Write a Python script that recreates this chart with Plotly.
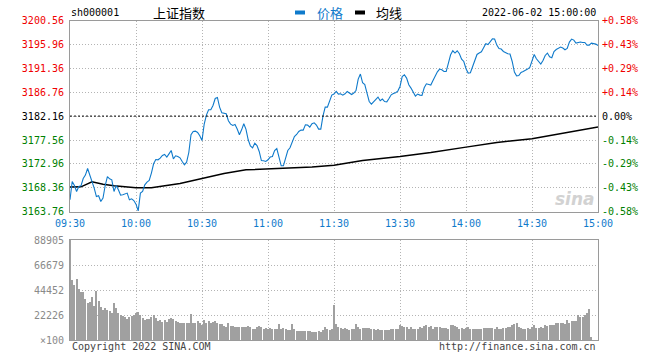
import plotly.graph_objects as go

# ---------------- data ----------------
minutes = list(range(241))
price = [
    3166.05, 3169.57, 3168.80, 3167.65, 3168.61, 3168.74, 3170.15, 3170.80, 3172.07, 3170.86,
    3169.90, 3168.30, 3166.68, 3166.82, 3165.72, 3166.37, 3168.80, 3170.53, 3170.09, 3169.90,
    3167.65, 3168.80, 3167.97, 3166.95, 3167.01, 3167.20, 3167.34, 3166.05, 3166.24, 3165.91,
    3165.22, 3163.93, 3167.34, 3167.65, 3168.94, 3169.45, 3169.76, 3171.19, 3172.98, 3173.81,
    3173.75, 3174.07, 3174.58, 3174.77, 3174.27, 3174.90, 3175.54, 3173.94, 3174.52, 3174.38,
    3174.13, 3173.42, 3172.79, 3173.30, 3175.15, 3178.56, 3179.20, 3179.27, 3179.00, 3178.37,
    3177.46, 3180.62, 3182.35, 3183.37, 3183.37, 3184.20, 3185.55, 3185.74, 3183.89, 3182.80,
    3182.74, 3182.60, 3181.26, 3180.62, 3180.35, 3180.54, 3179.66, 3178.56, 3179.52, 3180.68,
    3179.62, 3177.60, 3176.44, 3176.06, 3176.96, 3176.50, 3175.35, 3173.61, 3173.56, 3173.42,
    3173.75, 3174.27, 3174.38, 3175.54, 3175.92, 3174.07, 3172.59, 3172.59, 3174.19, 3175.54,
    3176.06, 3177.08, 3178.23, 3178.62, 3179.20, 3179.46, 3179.46, 3180.49, 3180.43, 3180.04,
    3180.68, 3180.87, 3180.43, 3179.66, 3179.66, 3182.22, 3183.89, 3183.89, 3185.11, 3186.20,
    3186.41, 3186.90, 3186.40, 3186.45, 3186.20, 3186.45, 3186.90, 3186.59, 3186.32, 3186.59,
    3187.09, 3189.28, 3190.25, 3188.57, 3188.24, 3186.59, 3184.97, 3184.47, 3184.97, 3185.49,
    3185.82, 3185.11, 3185.43, 3184.97, 3184.91, 3185.55, 3186.26, 3186.51, 3186.65, 3186.97,
    3187.86, 3189.78, 3190.11, 3189.48, 3188.19, 3187.55, 3186.90, 3186.01, 3186.40, 3186.20,
    3186.16, 3187.61, 3188.38, 3188.19, 3188.13, 3189.01, 3189.98, 3190.69, 3191.21, 3191.07,
    3190.75, 3190.75, 3192.36, 3193.96, 3194.73, 3194.29, 3194.73, 3194.15, 3193.13, 3192.67,
    3191.27, 3190.44, 3190.50, 3191.71, 3193.19, 3194.02, 3194.29, 3194.54, 3195.31, 3196.08,
    3195.94, 3196.41, 3197.04, 3196.98, 3195.83, 3195.17, 3195.06, 3194.60, 3194.35, 3194.15,
    3194.11, 3192.67, 3190.63, 3189.92, 3189.98, 3190.55, 3190.75, 3190.94, 3191.21, 3191.52,
    3192.67, 3194.02, 3193.19, 3192.75, 3192.17, 3192.86, 3193.83, 3194.29, 3193.58, 3193.38,
    3194.60, 3194.98, 3195.25, 3195.44, 3195.25, 3194.92, 3195.17, 3196.41, 3196.98, 3196.79,
    3196.21, 3196.33, 3196.41, 3196.33, 3196.33, 3195.83, 3195.83, 3196.21, 3196.14, 3196.02,
    3195.75,
]
avg_min = [0, 5, 10, 15, 20, 30, 37, 40, 50, 60, 70, 80, 90, 100, 110, 120,
           133, 150, 164, 180, 194, 210, 224, 240]
avg_val = [3168.49, 3168.55, 3169.51, 3169.03, 3168.74, 3168.36, 3168.36, 3168.55,
           3169.19, 3170.15, 3171.11, 3171.82, 3172.02, 3172.11, 3172.34, 3172.69,
           3173.61, 3174.38, 3175.15, 3176.19, 3177.08, 3177.79, 3178.89, 3180.04]

# volume in thousands (axis unit x100)
vol_k = [
    88.905,
    53.3, 48.9, 54.2, 45.0, 43.0, 43.0, 36.5, 32.6, 33.5, 38.5,
    30.2, 43.6, 35.0, 29.6, 26.7, 28.2, 26.7, 26.1, 24.3,
    33.2, 28.7, 23.7, 22.2, 21.3, 20.7, 18.4, 20.2, 21.3,
    22.2, 23.7, 24.9, 22.2, 19.3, 17.8, 18.4, 19.0, 20.7,
    22.2, 19.3, 17.2, 17.8, 16.3, 17.8, 16.3, 18.4, 19.3,
    18.4, 17.2, 16.3, 15.4, 15.4, 14.8, 15.4, 14.8, 23.1,
    14.8, 15.4, 17.2, 14.8, 13.3, 17.8, 15.4, 17.2, 14.8,
    16.3, 16.9, 14.8, 14.2, 13.9, 12.4, 11.9, 14.8, 12.4,
    12.4, 11.9, 11.3, 11.9, 11.3, 11.9, 11.9, 12.4,
    11.3, 10.1, 10.1, 11.3, 12.4, 11.9, 9.5, 10.4, 9.5, 10.4,
    10.1, 10.1, 10.1, 13.9,
    10.1, 10.4, 9.5, 8.9, 8.9, 14.2,
    9.5, 8.3, 8.3, 8.3, 8.3, 8.3, 8.3, 8.0, 7.4, 7.4, 7.4, 8.3, 7.4, 8.9, 11.3, 10.1, 8.9, 9.5,
    31.1,
    14.2, 11.3, 10.4, 10.1, 10.7, 9.5, 8.9, 9.5, 9.8,
    14.2, 11.9, 10.1, 10.7, 10.7, 10.7, 10.7, 9.5, 9.5,
    8.9, 10.1, 8.9, 9.2, 8.9, 8.9, 9.2, 9.5, 9.8,
    9.8, 10.1, 13.3, 12.4, 11.9, 11.9, 9.8, 11.9, 10.1, 10.1,
    10.1, 11.9, 11.0, 12.4, 13.3, 11.9, 12.4, 10.1, 11.9,
    11.9, 11.3, 10.7, 10.7, 10.7, 10.1, 13.3, 13.3, 12.4, 11.3,
    10.1, 11.0, 10.1, 10.7, 11.3, 9.8, 9.8, 10.1, 10.1,
    10.1, 10.1, 10.4, 10.7, 10.7, 10.7, 10.7,
    10.1, 11.3, 10.1, 9.5, 10.7, 10.7, 11.3, 11.3, 13.3, 14.2,
    15.4, 11.9, 10.4, 9.8, 10.1, 10.7, 10.1, 11.9, 13.3, 11.0,
    10.7, 11.3, 11.0, 13.0, 12.7, 13.6, 13.0, 13.6, 14.8,
    15.1, 14.8, 14.8, 14.2, 17.8, 14.8, 17.2, 17.2, 17.2, 21.9,
    20.7, 20.7, 22.2, 24.3, 27.6,
    3.0, 0, 0, 0,
]
volume = [v * 1000 for v in vol_k]

prev_close = 3182.16
price_ticks = [3163.76, 3168.36, 3172.96, 3177.56, 3182.16, 3186.76, 3191.36, 3195.96, 3200.56]
price_labels = ["3163.76", "3168.36", "3172.96", "3177.56", "3182.16", "3186.76", "3191.36", "3195.96", "3200.56"]
pct_labels = ["-0.58%", "-0.43%", "-0.29%", "-0.14%", "0.00%", "+0.14%", "+0.29%", "+0.43%", "+0.58%"]
vol_ticks = [0, 22226, 44452, 66679, 88905]
vol_labels = ["×100", "22226", "44452", "66679", "88905"]
time_ticks = [0, 30, 60, 90, 120, 150, 180, 210, 240]
time_labels = ["09:30", "10:00", "10:30", "11:00", "11:30", "13:30", "14:00", "14:30", "15:00"]

# ---------------- styles ----------------
W, H = 660, 360
BLUE = "#0f7acb"
RED = "#f00000"
GREEN = "#008000"
GRID = "#b4b4b4"
BORDER = "#9a9a9a"
MONO = "DejaVu Sans Mono"
CJK = "Noto Sans CJK SC"


def px(xpix):
    return xpix / W


def py(ypix):
    return 1 - ypix / H


def col(v):
    if v > prev_close + 1e-9:
        return RED
    if v < prev_close - 1e-9:
        return GREEN
    return "#000000"


left_text = [f'<span style="color:{col(v)}">{t}</span>' for v, t in zip(price_ticks, price_labels)]
right_text = [f'<span style="color:{col(v)}">{t}</span>' for v, t in zip(price_ticks, pct_labels)]

xdom = [px(70), px(598)]
pdom = [py(211.7), py(20.5)]
vdom = [py(340), py(240)]

fig = go.Figure()
fig.add_trace(go.Bar(x=minutes, y=volume, xaxis="x2", yaxis="y3",
                     marker=dict(color="#a0a0a0", line=dict(width=0)), width=0.45,
                     showlegend=False, hoverinfo="skip"))
fig.add_trace(go.Scatter(x=avg_min, y=avg_val, mode="lines", name="均线",
                         line=dict(color="#000000", width=1.5), showlegend=False))
fig.add_trace(go.Scatter(x=minutes, y=price, mode="lines", name="价格",
                         line=dict(color=BLUE, width=1.1), showlegend=False))
fig.add_trace(go.Scatter(x=[0], y=[prev_close], yaxis="y2", mode="markers",
                         marker=dict(opacity=0), showlegend=False, hoverinfo="skip"))

axis_common = dict(showline=True, mirror=True, linecolor=BORDER, linewidth=1,
                   zeroline=False, showgrid=True, gridcolor=GRID, griddash="1px,2px",
                   gridwidth=1, ticks="", fixedrange=True, automargin=False)

fig.update_layout(
    width=W, height=H, autosize=False,
    margin=dict(l=0, r=0, t=0, b=0, pad=0),
    paper_bgcolor="white", plot_bgcolor="white",
    bargap=0,
    xaxis=dict(domain=xdom, range=[0, 240], anchor="y", tickmode="array",
               tickvals=time_ticks, ticktext=time_labels,
               tickfont=dict(family=MONO, size=10, color=BLUE), ticklabelstandoff=2,
               **axis_common),
    yaxis=dict(domain=pdom, range=[price_ticks[0], price_ticks[-1]], anchor="x",
               tickmode="array", tickvals=price_ticks, ticktext=left_text,
               tickfont=dict(family=MONO, size=10), ticklabelstandoff=3,
               **axis_common),
    yaxis2=dict(overlaying="y", side="right", anchor="x",
                range=[price_ticks[0], price_ticks[-1]], tickmode="array",
                tickvals=price_ticks, ticktext=right_text, showgrid=False,
                zeroline=False, showline=False, ticks="", automargin=False,
                tickfont=dict(family=MONO, size=10), ticklabelstandoff=3, fixedrange=True),
    xaxis2=dict(domain=xdom, range=[0, 240], anchor="y3", tickmode="array",
                tickvals=time_ticks, showticklabels=False, **axis_common),
    yaxis3=dict(domain=vdom, range=[0, vol_ticks[-1]], anchor="x2", tickmode="array",
                tickvals=vol_ticks, ticktext=vol_labels,
                tickfont=dict(family=MONO, size=10, color="#8a8a8a"), ticklabelstandoff=3,
                **axis_common),
)

# previous close dashed line
fig.add_shape(type="line", xref="x", yref="y", x0=0, x1=240, y0=prev_close, y1=prev_close,
              line=dict(color="#000000", width=1, dash="2px,2px"), layer="above")

# legend marks
fig.add_shape(type="rect", xref="paper", yref="paper", x0=px(295), x1=px(305),
              y0=py(14.5), y1=py(10.5), fillcolor=BLUE, line=dict(width=0))
fig.add_shape(type="rect", xref="paper", yref="paper", x0=px(355), x1=px(365),
              y0=py(14.5), y1=py(10.5), fillcolor="#000000", line=dict(width=0))

ann = [
    dict(text="sh000001", x=px(69), xanchor="left", y=py(13), font=dict(family=MONO, size=10, color="#000")),
    dict(text="上证指数", x=px(151), xanchor="left", y=py(13), font=dict(family=CJK, size=13, color="#000")),
    dict(text="价格", x=px(315), xanchor="left", y=py(13), font=dict(family=CJK, size=13, color=BLUE)),
    dict(text="均线", x=px(374), xanchor="left", y=py(13), font=dict(family=CJK, size=13, color="#000")),
    dict(text="2022-06-02 15:00:00", x=px(598), xanchor="right", y=py(13), font=dict(family=MONO, size=10, color="#000")),
    dict(text="Copyright 2022 SINA.COM", x=px(70), xanchor="left", y=py(346), font=dict(family=MONO, size=10, color="#444")),
    dict(text="http://finance.sina.com.cn", x=px(598), xanchor="right", y=py(346), font=dict(family=MONO, size=10, color="#444")),
    dict(text="<b><i>sina</i></b>", x=px(597), xanchor="right", y=py(199), font=dict(family="DejaVu Sans", size=17, color="#d2d2d2")),
]
for a in ann:
    fig.add_annotation(xref="paper", yref="paper", yanchor="middle", showarrow=False, **a)

# remove the browser's default 8px body margin so the 660x360 figure fills the window
fig.write_html("out.html", config={"displayModeBar": False},
               post_script="document.body.style.margin='0';")
